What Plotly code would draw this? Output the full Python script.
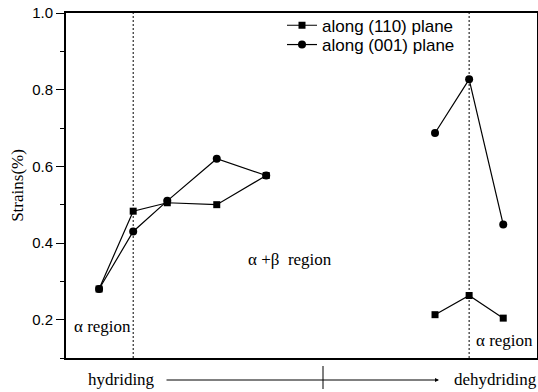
import plotly.graph_objects as go

# ---- data ----
hyd_x = [1, 2, 3, 4.45, 5.9]
dehyd_x = [10.85, 11.85, 12.85]
hyd_110 = [0.28, 0.483, 0.505, 0.50, 0.576]
hyd_001 = [0.28, 0.430, 0.510, 0.620, 0.576]
dehyd_110 = [0.213, 0.263, 0.204]
dehyd_001 = [0.687, 0.827, 0.448]
series_names = ["along (110) plane", "along (001) plane"]
y_ticks = [0.2, 0.4, 0.6, 0.8, 1.0]
y_tick_labels = ["0.2", "0.4", "0.6", "0.8", "1.0"]

W, H = 538, 392
PL, PR, PT, PB = 66, 537, 13, 358          # plot box in window pixels
L, T = PL, PT
R, B = W - PR, H - PB
PW, PH = PR - PL, PB - PT

def px(xp):
    return (xp - PL) / PW

def py(yp):
    return (PB - yp) / PH

serif = "Liberation Serif, Times New Roman, serif"
sans = "Liberation Sans, Arial, sans-serif"

fig = go.Figure()
line = dict(color="black", width=1.2)
fig.add_trace(go.Scatter(x=hyd_x, y=hyd_110, mode="lines+markers", name=series_names[0],
                         legendgroup="a", legend="legend", line=line,
                         marker=dict(symbol="square", size=7, color="black")))
fig.add_trace(go.Scatter(x=hyd_x, y=hyd_001, mode="lines+markers", name=series_names[1],
                         legendgroup="b", legend="legend2", line=line,
                         marker=dict(symbol="circle", size=8, color="black")))
fig.add_trace(go.Scatter(x=dehyd_x, y=dehyd_110, mode="lines+markers", name=series_names[0],
                         legendgroup="a", showlegend=False, line=line,
                         marker=dict(symbol="square", size=7, color="black")))
fig.add_trace(go.Scatter(x=dehyd_x, y=dehyd_001, mode="lines+markers", name=series_names[1],
                         legendgroup="b", showlegend=False, line=line,
                         marker=dict(symbol="circle", size=8, color="black")))

# dashed phase boundaries
for xv in (hyd_x[1], dehyd_x[1]):
    fig.add_shape(type="line", xref="x", yref="paper", x0=xv, x1=xv, y0=0, y1=1,
                  line=dict(color="black", width=1, dash="2px,2px"), layer="below")

ann = []
ann.append(dict(text="α region", x=px(72), y=py(326), xanchor="left", yanchor="middle"))
ann.append(dict(text="α +β  region", x=px(246), y=py(259), xanchor="left", yanchor="middle"))
ann.append(dict(text="α region", x=px(474), y=py(340), xanchor="left", yanchor="middle"))
ann.append(dict(text="hydriding", x=px(86), y=py(379), xanchor="left", yanchor="middle"))
ann.append(dict(text="dehydriding", x=px(452), y=py(379), xanchor="left", yanchor="middle"))
for a in ann:
    a.update(xref="paper", yref="paper", showarrow=False,
             font=dict(family=serif, size=17, color="black"))
    fig.add_annotation(**a)

# arrow hydriding -> dehydriding
fig.add_annotation(x=px(439), y=py(380), ax=165 - 439, ay=0, xref="paper", yref="paper",
                   axref="pixel", ayref="pixel", text="", showarrow=True,
                   arrowhead=2, arrowsize=0.8, arrowwidth=1, arrowcolor="black")
fig.add_shape(type="line", xref="paper", yref="paper", x0=px(323), x1=px(323),
              y0=py(366), y1=py(389), line=dict(color="black", width=1))

leg_common = dict(xanchor="left", yanchor="top",
                  font=dict(family=sans, size=17, color="black"),
                  bgcolor="rgba(0,0,0,0)", borderwidth=0, tracegroupgap=0,
                  itemsizing="trace")
fig.update_layout(
    width=W, height=H,
    margin=dict(l=L, r=R, t=T, b=B, autoexpand=False),
    paper_bgcolor="white", plot_bgcolor="white",
    showlegend=True,
    legend=dict(x=px(282), y=py(7.7), **leg_common),
    legend2=dict(x=px(282), y=py(27), **leg_common),
    font=dict(family=sans, color="black"),
)
fig.update_xaxes(range=[0.03, 13.84], showticklabels=False, ticks="", showgrid=False,
                 zeroline=False, showline=True, linecolor="black", linewidth=2, mirror=True)
fig.update_yaxes(range=[0.1, 1.0], tickvals=y_ticks, ticktext=y_tick_labels,
                 ticks="outside", ticklen=8, tickwidth=1.2, tickcolor="black",
                 tickfont=dict(family=sans, size=15, color="black"),
                 ticklabeloverflow="allow",
                 minor=dict(ticks="outside", ticklen=4, tickwidth=1.2, tickcolor="black",
                            dtick=0.1, tick0=0.1),
                 showgrid=False, zeroline=False, showline=True, linecolor="black",
                 linewidth=2, mirror=True,
                 title=dict(text="Strains(%)", font=dict(family=serif, size=17, color="black"),
                            standoff=4))

fig.write_html("out.html", config={"displayModeBar": False},
               post_script="document.body.style.margin='0';document.body.style.overflow='hidden';")
